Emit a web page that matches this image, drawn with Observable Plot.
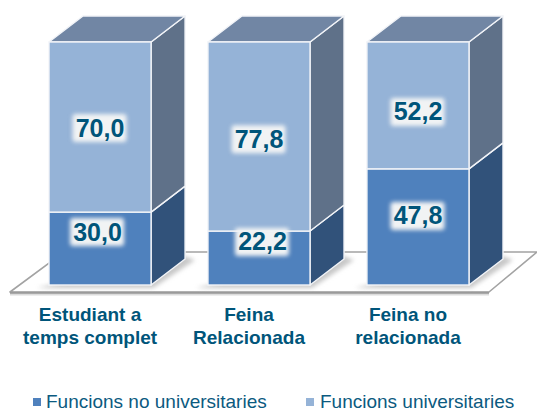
<!DOCTYPE html>
<html>
<head>
<meta charset="utf-8">
<script src="https://cdn.jsdelivr.net/npm/d3@7"></script>
<script src="https://cdn.jsdelivr.net/npm/@observablehq/plot@0.6"></script>
<style>
html,body{margin:0;padding:0;background:#fff}
#wrap{width:537px;height:411px;position:relative;overflow:hidden}
#legend{position:absolute;left:0;top:389px;width:537px;height:22px;font:19px "Liberation Sans",Arial,sans-serif;color:#0B5A80}
#legend span{position:absolute;top:2px;white-space:nowrap}
#legend i{position:absolute;top:9px;width:8px;height:8px;display:block}
</style>
</head>
<body>
<div id="wrap"></div>
<script>
const categories = ["Estudiant a\ntemps complet", "Feina\nRelacionada", "Feina no\nrelacionada"];
const lower = [30.0, 22.2, 47.8];
const upper = [70.0, 77.8, 52.2];
const seriesNames = ["Funcions no universitaries", "Funcions universitaries"];
// label anchors, in percentage units
const lowerLabelAt = [21.8, 17.7, 28.4];
const upperLabelAt = [64.6, 60.0, 71.2];

const frontColors = ["#4F81BD", "#95B3D7"];
const sideColors = ["#31527A", "#5F7189"];
const topColor = "#7186A4";
const textColor = "#00557A";
const depthX = 34, depthY = 26;

const fmt = v => v.toFixed(1).replace(".", ",");
const segments = categories.flatMap((c, i) => [
  {cat: c, s: 0, y1: 0, y2: lower[i], v: lower[i], at: lowerLabelAt[i]},
  {cat: c, s: 1, y1: lower[i], y2: 100, v: upper[i], at: upperLabelAt[i]}
]);
const labelShift = d => d.s === 0 && d.v === 30 ? -3 : d.s === 0 && d.v === 22.2 ? 3 : -0.5;

const NS = "http://www.w3.org/2000/svg";
function el(name, attrs, parent) {
  const e = document.createElementNS(NS, name);
  for (const k in attrs) e.setAttribute(k, attrs[k]);
  if (parent) parent.appendChild(e);
  return e;
}
const poly = (pts) => pts.map(p => p.join(",")).join(" ");
const bandOf = scales => {
  const b = scales.scales && scales.scales.x ? scales.scales.x.bandwidth : scales.x.bandwidth;
  return typeof b === "function" ? b() : b;
};

function floorMark(index, scales) {
  const g = el("g", {});
  const w = bandOf(scales);
  const x0 = scales.x(categories[0]), xN = scales.x(categories[2]) + w;
  const base = scales.y(0);
  const front = base + 7, back = base - 33;
  const pts = [[x0 - 39, front], [xN + 20, front], [xN + 68, back], [x0 + 15, back]];
  el("polygon", {points: poly(pts), fill: "#fff", stroke: "#a3a3a3", "stroke-width": 1.6, "stroke-linejoin": "round"}, g);
  el("line", {x1: x0 - 39, y1: front + .8, x2: xN + 20, y2: front + .8, stroke: "#9a9a9a", "stroke-width": 2.2}, g);
  el("line", {x1: x0 - 39, y1: front + 2.6, x2: xN + 20, y2: front + 2.6, stroke: "#dcdcdc", "stroke-width": 1.6}, g);
  for (const c of categories) {
    const x = scales.x(c);
    el("polygon", {
      points: poly([[x - 12, base + 3], [x + w + 2, base + 3], [x + w + depthX + 10, base - depthY + 1], [x + w + depthX - 4, base - depthY - 4]]),
      fill: "#c8c8c8", style: "filter:blur(2px)"
    }, g);
  }
  return g;
}

function facesMark(index, scales) {
  const g = el("g", {});
  const w = bandOf(scales);
  for (const d of segments) {
    const x = scales.x(d.cat) + w, a = scales.y(d.y1), b = scales.y(d.y2);
    el("polygon", {
      points: poly([[x, b], [x + depthX, b - depthY], [x + depthX, a - depthY], [x, a]]),
      fill: sideColors[d.s], stroke: "#f2f4f8", "stroke-width": 1.4, "stroke-linejoin": "round"
    }, g);
    if (d.s === 1) {
      const l = scales.x(d.cat);
      el("polygon", {
        points: poly([[l, b], [l + depthX, b - depthY], [x + depthX, b - depthY], [x, b]]),
        fill: topColor, stroke: "#f2f4f8", "stroke-width": 1.4, "stroke-linejoin": "round"
      }, g);
    }
  }
  return g;
}

function glowMark(index, scales) {
  const g = el("g", {});
  const w = bandOf(scales);
  for (const d of segments) {
    const x = scales.x(d.cat) + w / 2 + labelShift(d);
    const y = scales.y(d.at);
    el("rect", {x: x - 27, y: y - 14, width: 54, height: 28, rx: 3, fill: "#f1f3f4", style: "filter:blur(2px)"}, g);
  }
  return g;
}

const labelMarks = segments.map(d => Plot.text([d], {
  x: "cat",
  y: "at",
  text: r => fmt(r.v),
  dx: labelShift(d),
  fill: textColor,
  fontWeight: "bold",
  fontSize: 25,
  fontFamily: "Liberation Sans"
}));

const plot = Plot.plot({
  width: 537,
  height: 385,
  marginTop: 42,
  marginBottom: 100,
  marginLeft: 49,
  marginRight: 68,
  style: {background: "transparent", fontFamily: "Liberation Sans"},
  x: {domain: categories, paddingInner: 0.358, paddingOuter: 0, align: 0.5, round: false, label: null},
  y: {domain: [0, 100], axis: null, label: null},
  marks: [
    floorMark,
    facesMark,
    Plot.rectY(segments, {
      x: "cat", y1: "y1", y2: "y2",
      fill: d => frontColors[d.s],
      stroke: "#f2f4f8",
      strokeWidth: 1.4
    }),
    glowMark,
    ...labelMarks,
    Plot.axisX({
      tickSize: 0,
      tickPadding: 20,
      dx: -10.5,
      fontSize: 19,
      fontWeight: "bold",
      fontFamily: "Liberation Sans",
      fill: textColor,
      lineHeight: 1.17,
      label: null
    })
  ]
});

const wrap = document.getElementById("wrap");
wrap.appendChild(plot);
const legend = document.createElement("div");
legend.id = "legend";
const spots = [[33, 46], [306, 320]];
seriesNames.forEach((name, i) => {
  const sw = document.createElement("i");
  sw.style.left = spots[i][0] + "px";
  sw.style.background = frontColors[i];
  legend.appendChild(sw);
  const t = document.createElement("span");
  t.style.left = spots[i][1] + "px";
  t.textContent = name;
  legend.appendChild(t);
});
wrap.appendChild(legend);
</script>
</body>
</html>
